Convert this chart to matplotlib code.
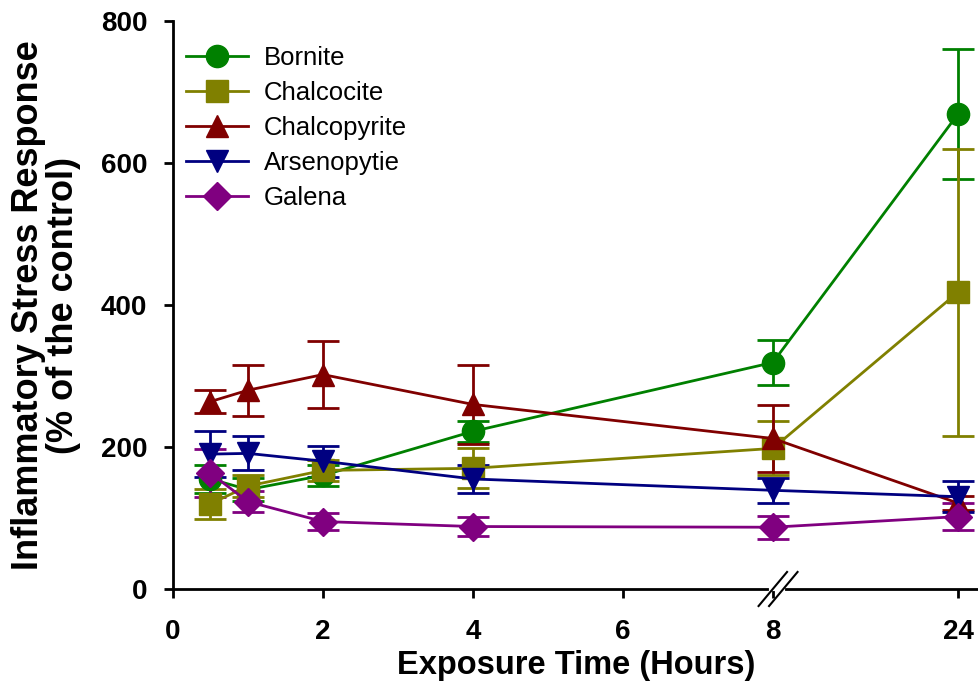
import numpy as np
import matplotlib
matplotlib.use('Agg')
import matplotlib.pyplot as plt

plt.rcParams['font.family'] = ['Liberation Sans', 'DejaVu Sans']

# exposure times (hours) and responses (% of control)
hours = [0.5, 1, 2, 4, 8, 24]
tick_hours = [0, 2, 4, 6, 8, 24]

bornite = [155, 140, 160, 222, 319, 669]
bornite_err = [20, 16, 15, 15, 32, 92]
chalcocite = [120, 145, 167, 170, 198, 418]
chalcocite_err = [21, 15, 15, 28, 38, 202]
chalcopyrite = [264, 280, 302, 260, 212, 121]
chalcopyrite_err = [16, 36, 47, 56, 47, 10]
arsenopytie = [190, 191, 180, 155, 139, 130]
arsenopytie_err = [32, 24, 22, 20, 18, 22]
galena = [163, 123, 95, 88, 87, 102]
galena_err = [34, 15, 12, 13, 16, 19]

series = [
    ('Bornite', bornite, bornite_err, '#008000', 'o'),
    ('Chalcocite', chalcocite, chalcocite_err, '#808000', 's'),
    ('Chalcopyrite', chalcopyrite, chalcopyrite_err, '#800000', '^'),
    ('Arsenopytie', arsenopytie, arsenopytie_err, '#000080', 'v'),
    ('Galena', galena, galena_err, '#800080', 'D'),
]

# broken axis: 0-8 h linear, then 8-24 h compressed
K = 2.47 / 16.0


def fwd(h):
    h = np.asarray(h, dtype=float)
    return np.where(h <= 8, h, 8 + (h - 8) * K)


def inv(x):
    x = np.asarray(x, dtype=float)
    return np.where(x <= 8, x, 8 + (x - 8) / K)


fig = plt.figure(figsize=(9.79, 6.89), dpi=100)
ax = fig.add_axes([173 / 979, 1 - 589 / 689, 1 - 173 / 979, (589 - 21) / 689])
ax.set_xscale('function', functions=(fwd, inv))

handles, labels = [], []
for name, vals, err, color, marker in series:
    ms = 14 if marker == 'D' else 16
    cont = ax.errorbar(hours, vals, yerr=err, color=color, marker=marker,
                       markersize=ms, lw=2, elinewidth=2, capsize=11.5,
                       capthick=2)
    handles.append(cont[0])
    labels.append(name)

ax.set_xlim(0, inv(10.75))
ax.set_ylim(0, 800)
ax.set_xticks(tick_hours)
ax.set_xticklabels([str(t) for t in tick_hours])
ax.set_yticks([0, 200, 400, 600, 800])
ax.minorticks_off()

for s in ['top', 'right']:
    ax.spines[s].set_visible(False)
for s in ['left', 'bottom']:
    ax.spines[s].set_linewidth(2)
ax.tick_params(direction='out', length=6.5, width=2, labelsize=20)
ax.tick_params(axis='y', pad=12)
ax.tick_params(axis='x', pad=15)
for lab in ax.get_xticklabels() + ax.get_yticklabels():
    lab.set_fontweight('bold')

# axis break marks near 8 h
tr = ax.get_xaxis_transform()
ax.plot([inv(7.97), inv(8.13)], [0, 0], color='white', lw=3,
        transform=tr, clip_on=False, zorder=5)
for x0 in [7.81, 7.95]:
    ax.plot([inv(x0), inv(x0 + 0.38)], [-0.03, 0.03], color='black', lw=1.5,
            transform=tr, clip_on=False, zorder=6)

ax.set_xlabel('Exposure Time (Hours)', fontsize=23.5, fontweight='bold', labelpad=4)
ax.set_ylabel('Inflammatory Stress Response\n(% of the control)',
              fontsize=26, fontweight='bold', labelpad=14, linespacing=1.0)

ax.legend(handles, labels, loc='upper left', frameon=False, fontsize=18.5,
          handlelength=2.4, handletextpad=0.65, labelspacing=0.42,
          borderaxespad=0.2, borderpad=0.3, bbox_to_anchor=(0.0, 0.978))

fig.savefig('out.png', dpi=100)
